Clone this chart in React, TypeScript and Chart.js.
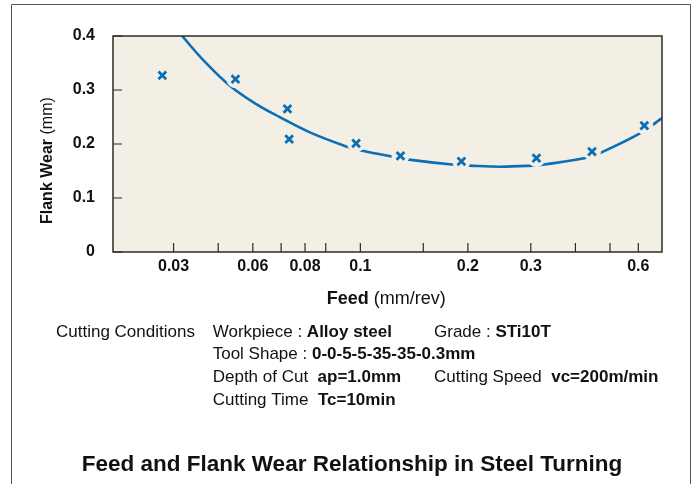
import React, { useEffect, useRef } from 'react';
import { Chart, registerables } from 'chart.js';

Chart.register(...registerables);

// Measured points (feed mm/rev, flank wear mm)
const pointFeed = [0.0279, 0.0447, 0.0625, 0.0632, 0.0973, 0.1295, 0.1918, 0.3111, 0.4452, 0.6237];
const pointWear = [0.327, 0.320, 0.265, 0.209, 0.201, 0.178, 0.168, 0.174, 0.186, 0.234];

// Fitted curve
const curveFeed = [0.0317, 0.0365, 0.0433, 0.0514, 0.0598, 0.0725, 0.0909, 0.1005, 0.1241, 0.1366, 0.1806, 0.2033, 0.2466, 0.3024, 0.3274, 0.4265, 0.4677, 0.6078, 0.699];
const curveWear = [0.400, 0.354, 0.307, 0.273, 0.249, 0.221, 0.196, 0.188, 0.176, 0.171, 0.162, 0.160, 0.158, 0.160, 0.162, 0.174, 0.183, 0.220, 0.248];

// Axis ticks
const xTickValues = [0.03, 0.04, 0.05, 0.06, 0.07, 0.08, 0.1, 0.15, 0.2, 0.3, 0.4, 0.5, 0.6];
const xTickLabels = ['0.03', '', '0.06', '', '0.08', '', '0.1', '', '0.2', '0.3', '', '', '0.6'];
const yTickValues = [0, 0.1, 0.2, 0.3, 0.4];
const yTickLabels = ['0', '0.1', '0.2', '0.3', '0.4'];

const FONT = '"Liberation Sans", Arial, Helvetica, sans-serif';
const BLUE = '#0a6fb4';
const BEIGE = '#f3efe5';
const INK = '#111111';

type Run = [string, boolean];

function drawRuns(ctx: CanvasRenderingContext2D, x: number, y: number, runs: Run[], size: number) {
  let cx = x;
  for (const [t, bold] of runs) {
    ctx.font = `${bold ? 'bold ' : ''}${size}px ${FONT}`;
    ctx.fillText(t, cx, y);
    cx += ctx.measureText(t).width;
  }
}

const decorPlugin = {
  id: 'decor',
  beforeDatasetsDraw(chart: any) {
    const { ctx, chartArea: a } = chart;
    ctx.save();
    ctx.fillStyle = BEIGE;
    ctx.fillRect(a.left, a.top, a.right - a.left, a.bottom - a.top);
    ctx.restore();
  },
  afterDatasetsDraw(chart: any) {
    const { ctx, chartArea: a } = chart;
    const xs = chart.scales.x;
    const ys = chart.scales.y;
    ctx.save();
    ctx.strokeStyle = '#2b2b2b';
    ctx.lineWidth = 1.5;
    ctx.strokeRect(a.left, a.top, a.right - a.left, a.bottom - a.top);
    ctx.beginPath();
    for (const v of xTickValues) {
      const px = xs.getPixelForValue(v);
      ctx.moveTo(px, a.bottom);
      ctx.lineTo(px, a.bottom - 9);
    }
    for (const v of yTickValues) {
      const py = ys.getPixelForValue(v);
      ctx.moveTo(a.left, py);
      ctx.lineTo(a.left + 9, py);
    }
    ctx.lineWidth = 1.2;
    ctx.stroke();
    ctx.restore();
  },
  afterDraw(chart: any) {
    const { ctx } = chart;
    ctx.save();
    ctx.strokeStyle = '#555555';
    ctx.lineWidth = 1;
    ctx.beginPath();
    ctx.moveTo(11.5, 484);
    ctx.lineTo(11.5, 4.5);
    ctx.lineTo(690.5, 4.5);
    ctx.lineTo(690.5, 484);
    ctx.stroke();

    ctx.fillStyle = INK;
    ctx.textAlign = 'left';
    ctx.textBaseline = 'alphabetic';
    drawRuns(ctx, 326.7, 304, [['Feed', true], [' (mm/rev)', false]], 18);
    ctx.save();
    ctx.translate(51.7, 224);
    ctx.rotate(-Math.PI / 2);
    drawRuns(ctx, 0, 0, [['Flank Wear', true], [' (mm)', false]], 16);
    ctx.restore();

    const s = 17;
    drawRuns(ctx, 56, 336.7, [['Cutting Conditions', false]], s);
    drawRuns(ctx, 212.7, 336.7, [['Workpiece : ', false], ['Alloy steel', true]], s);
    drawRuns(ctx, 434, 336.7, [['Grade : ', false], ['STi10T', true]], s);
    drawRuns(ctx, 212.7, 359.3, [['Tool Shape : ', false], ['0-0-5-5-35-35-0.3mm', true]], s);
    drawRuns(ctx, 212.7, 382, [['Depth of Cut  ', false], ['ap=1.0mm', true]], s);
    drawRuns(ctx, 434, 382, [['Cutting Speed  ', false], ['vc=200m/min', true]], s);
    drawRuns(ctx, 212.7, 404.5, [['Cutting Time  ', false], ['Tc=10min', true]], s);

    ctx.font = `bold 22.5px ${FONT}`;
    ctx.textAlign = 'center';
    ctx.fillText('Feed and Flank Wear Relationship in Steel Turning', 352, 470.7);
    ctx.restore();
  },
};

export default function App() {
  const ref = useRef<HTMLCanvasElement | null>(null);

  useEffect(() => {
    if (!ref.current) return;
    const curve = curveFeed.map((x, i) => ({ x, y: curveWear[i] }));
    const pts = pointFeed.map((x, i) => ({ x, y: pointWear[i] }));
    const chart = new Chart(ref.current, {
      type: 'scatter',
      data: {
        datasets: [
          {
            label: 'points',
            data: pts,
            pointStyle: 'crossRot',
            pointRadius: 5.5,
            pointBorderWidth: 2.8,
            pointBorderColor: BLUE,
            borderColor: BLUE,
            backgroundColor: BLUE,
            showLine: false,
            order: 1,
          },
          {
            label: 'halo',
            data: pts,
            pointStyle: 'circle',
            pointRadius: 9,
            pointBorderWidth: 0,
            pointBackgroundColor: BEIGE,
            pointBorderColor: BEIGE,
            borderColor: BEIGE,
            backgroundColor: BEIGE,
            showLine: false,
            order: 2,
          },
          {
            label: 'curve',
            data: curve,
            showLine: true,
            borderColor: BLUE,
            borderWidth: 2.6,
            pointRadius: 0,
            tension: 0.4,
            fill: false,
            order: 3,
          } as any,
        ],
      },
      options: {
        responsive: false,
        animation: false,
        events: [],
        layout: { padding: { left: 0, right: 31, top: 36, bottom: 0 } },
        plugins: {
          legend: { display: false },
          tooltip: { enabled: false },
          title: { display: false },
        },
        scales: {
          x: {
            type: 'logarithmic',
            min: 0.0203,
            max: 0.699,
            grid: { display: false, drawTicks: false },
            border: { display: false },
            afterBuildTicks: (scale: any) => {
              scale.ticks = xTickValues.map((v) => ({ value: v }));
            },
            afterFit: (scale: any) => {
              scale.height = 232;
            },
            ticks: {
              autoSkip: false,
              maxRotation: 0,
              minRotation: 0,
              padding: 5,
              color: INK,
              font: { family: FONT, size: 16, weight: 'bold' },
              callback: (v: any) => {
                const i = xTickValues.indexOf(Number(v));
                return i >= 0 ? xTickLabels[i] : '';
              },
            },
          },
          y: {
            type: 'linear',
            min: 0,
            max: 0.4,
            grid: { display: false, drawTicks: false },
            border: { display: false },
            afterBuildTicks: (scale: any) => {
              scale.ticks = yTickValues.map((v) => ({ value: v }));
            },
            afterFit: (scale: any) => {
              scale.width = 113;
            },
            ticks: {
              padding: 18,
              color: INK,
              font: { family: FONT, size: 16, weight: 'bold' },
              callback: (v: any) => {
                const i = yTickValues.findIndex((t) => Math.abs(t - Number(v)) < 1e-9);
                return i >= 0 ? yTickLabels[i] : '';
              },
            },
          },
        },
      } as any,
      plugins: [decorPlugin],
    });
    return () => chart.destroy();
  }, []);

  return (
    <div style={{ position: 'absolute', left: 0, top: 0, width: 693, height: 484, background: '#ffffff' }}>
      <canvas ref={ref} width={693} height={484} style={{ width: 693, height: 484, display: 'block' }} />
    </div>
  );
}
